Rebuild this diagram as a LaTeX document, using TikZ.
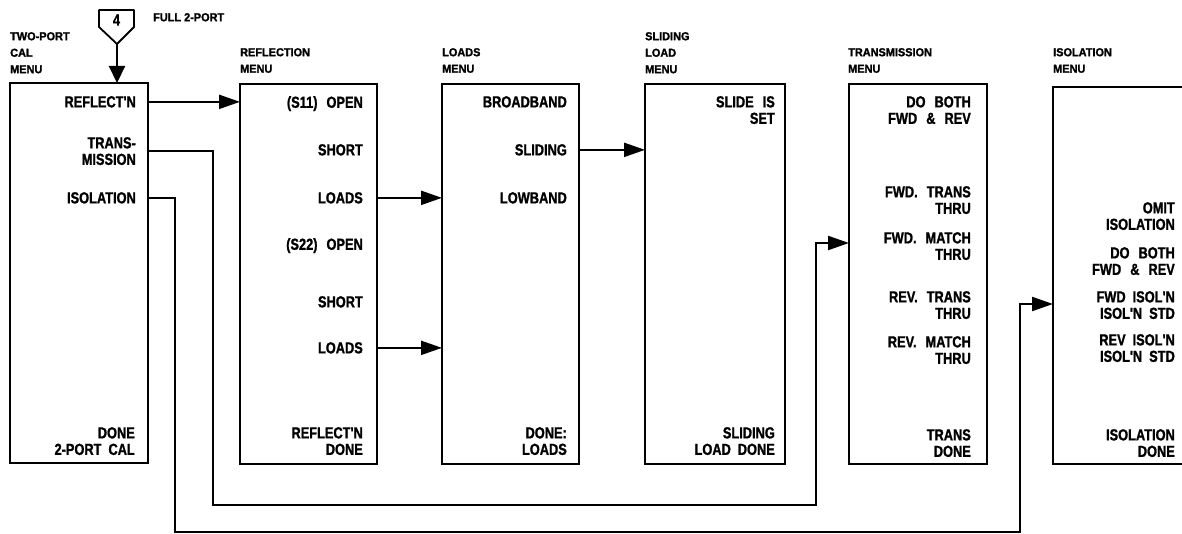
\documentclass[tikz,border=0pt]{standalone}
\usepackage{fontspec}
\setmainfont{Liberation Sans}
\newfontfamily\itemfnt{Liberation Sans}[FakeStretch=0.8,FakeBold=1.2]
\newfontfamily\hdrfnt{Liberation Sans}[FakeStretch=0.95,FakeBold=1.5]
\usetikzlibrary{arrows.meta}
\begin{document}
\begin{tikzpicture}[x=1pt,y=-1pt,
  menubox/.style={draw, line width=2.2pt, inner sep=0pt, outer sep=0pt, anchor=north west, minimum width=138pt, minimum height=380pt},
  item/.style={anchor=north east, inner sep=0pt, align=right, font=\itemfnt\bfseries\fontsize{16}{16.5}\selectfont},
  hdr/.style={anchor=north west, inner sep=0pt, align=left, font=\hdrfnt\bfseries\fontsize{11.5}{16.5}\selectfont},
  conn/.style={line width=2.2pt, -{Triangle[length=21pt,width=14pt]}},
]
\useasboundingbox (0,0) rectangle (1182,534);
\clip (0,0) rectangle (1182,534);
\fill[white] (0,0) rectangle (1182,534);

% boxes
\node[menubox] (b1) at (10,83) {};
\node[menubox, minimum width=137pt] (b2) at (240,84) {};
\node[menubox, minimum width=137pt] (b3) at (442,84) {};
\node[menubox, minimum width=140pt] (b4) at (645,84) {};
\node[menubox] (b5) at (849,84) {};
\node[menubox, minimum width=160pt, minimum height=377pt] (b6) at (1053,87) {};

% headers
\node[hdr] (h0) at (153,13) {FULL 2-PORT};
\node[hdr] (h1) at (10,32) {TWO-PORT\\CAL\\MENU};
\node[hdr] (h2) at (240,48) {REFLECTION\\MENU};
\node[hdr] (h3) at (442,48) {LOADS\\MENU};
\node[hdr] (h4) at (645,32) {SLIDING\\LOAD\\MENU};
\node[hdr] (h5) at (848,48) {TRANSMISSION\\MENU};
\node[hdr] (h6) at (1053,48) {ISOLATION\\MENU};

% entry symbol
\coordinate (ptip) at (117,44);
\draw[line width=1.8pt, line join=round] (99,10) -- (134,10) -- (134,27) -- (ptip) -- (99,27) -- cycle;
\node[inner sep=0pt, font=\itemfnt\bfseries\fontsize{16}{16}\selectfont] (four) at (116.5,20) {4};
\draw[line width=2.2pt, -{Triangle[length=17pt,width=16pt]}] (ptip) -- (ptip |- b1.north);

% box 1
\node[item] (r1) at (136,96) {REFLECT'N};
\node[item] (tm) at (136,137) {TRANS-\\MISSION};
\node[item] (is1) at (136,192) {ISOLATION};
\node[item] (d1) at (135,427) {DONE\\2-PORT\hspace{7pt}CAL};

% box 2
\node[item] (s11) at (363,96) {(S11)\hspace{9pt}OPEN};
\node[item] (sh1) at (363,144) {SHORT};
\node[item] (ld1) at (363,192) {LOADS};
\node[item] (s22) at (363,238) {(S22)\hspace{9pt}OPEN};
\node[item] (sh2) at (363,296) {SHORT};
\node[item] (ld2) at (363,342) {LOADS};
\node[item] (d2) at (363,427) {REFLECT'N\\DONE};

% box 3
\node[item] (bb) at (567,96) {BROADBAND};
\node[item] (sl) at (567,144) {SLIDING};
\node[item] (lb) at (567,192) {LOWBAND};
\node[item] (d3) at (567,427) {DONE:\\LOADS};

% box 4
\node[item] (ss) at (775,96) {SLIDE\hspace{9pt}IS\\SET};
\node[item] (d4) at (775,427) {SLIDING\\LOAD\hspace{7pt}DONE};

% box 5
\node[item] (db5) at (971,96) {DO\hspace{9pt}BOTH\\FWD\hspace{9pt}\&\hspace{9pt}REV};
\node[item] (ft) at (971,186) {FWD.\hspace{9pt}TRANS\\THRU};
\node[item] (fm) at (971,232) {FWD.\hspace{9pt}MATCH\\THRU};
\node[item] (rt) at (971,291) {REV.\hspace{9pt}TRANS\\THRU};
\node[item] (rm) at (971,336) {REV.\hspace{9pt}MATCH\\THRU};
\node[item] (d5) at (971,429) {TRANS\\DONE};

% box 6
\node[item] (om) at (1175,202) {OMIT\\ISOLATION};
\node[item] (db6) at (1175,247) {DO\hspace{9pt}BOTH\\FWD\hspace{9pt}\&\hspace{9pt}REV};
\node[item] (fi) at (1175,291) {FWD\hspace{7pt}ISOL'N\\ISOL'N\hspace{7pt}STD};
\node[item] (ri) at (1175,334) {REV\hspace{7pt}ISOL'N\\ISOL'N\hspace{7pt}STD};
\node[item] (d6) at (1175,429) {ISOLATION\\DONE};

% connectors
\draw[conn] (b1.east |- r1) -- (b2.west |- r1);
\draw[conn] (b2.east |- ld1) -- (b3.west |- ld1);
\draw[conn] (b2.east |- ld2) -- (b3.west |- ld2);
\draw[conn] (b3.east |- sl) -- (b4.west |- sl);

\coordinate (tx) at (213,505);
\coordinate (ty) at (816,243);
\draw[conn] (b1.east |- tm) -| (tx) -- (tx -| ty) |- (b5.west |- ty);

\coordinate (ix) at (175,532);
\coordinate (iy) at (1020,304);
\draw[conn] (b1.east |- is1) -| (ix) -- (ix -| iy) |- (b6.west |- iy);
\end{tikzpicture}
\end{document}
